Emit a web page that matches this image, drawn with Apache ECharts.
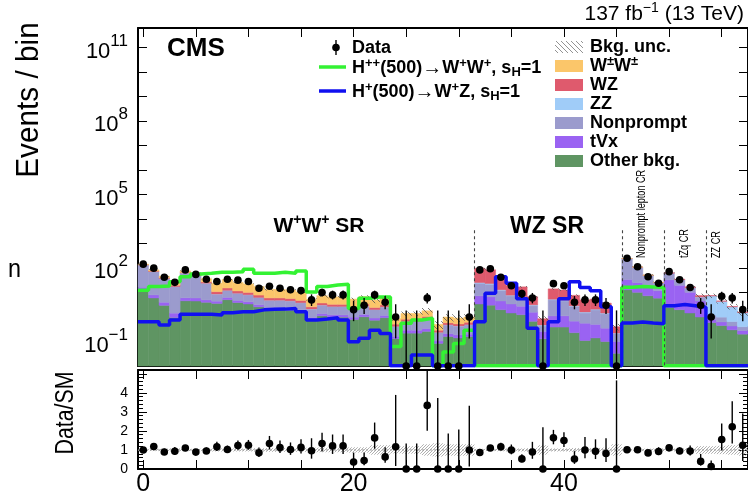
<!DOCTYPE html>
<html>
<head>
<meta charset="utf-8">
<script src="https://cdn.jsdelivr.net/npm/echarts@6/dist/echarts.min.js"></script>
<style>
  html, body { margin: 0; padding: 0; background: #ffffff; }
  #main { width: 748px; height: 497px; }
</style>
</head>
<body>
<div id="main"></div>
<script>
// ---- bins (bin centres; each bin is one unit wide) ----
const binCenters = [0,1,2,3,4,5,6,7,8,9,10,11,12,13,14,15,16,17,18,19,20,21,22,23,24,25,26,27,28,29,
  30,31,32,33,34,35,36,37,38,39,40,41,42,43,44,45,46,47,48,49,50,51,52,53,54,55,56,57];

// ---- observed events ----
const dataCounts = [144,99,42,26,84,55,35,28,35,32, 28,15,18,15,13,12,5,10,8,8,
  2,3,8,4,1,0,0,6,0,0, 0,1,84,94,42,19,9,6,0,23, 19,4,5,5,3,0,249,112,44,24,
  71,33,16,3,1,7,6,2];

// ---- expected backgrounds (stacked bottom to top) ----
const bkgOther = [13.4,6,3,0.96,4.6,4.5,4, 3.6,5.1,3.9,3.4,2.6,2,2,1.9,1.6,
  0.78,1.12,0.99,0.99,0.8,1.02,0.74,0.94,0.13,0.22,0.22,0.26,0.084,0.16,0.14,0.16,
  3.4,3.05,2,1.46,1.25,0.67,0.13,0.39,0.39,0.23,0.11,0.14,0.1,0.033,
  13,10.2,7.4,5.9, 2.5,2,1.46,1, 0.59,0.45,0.3,0.2];
const bkgTVx = [3.1,2,1,0.48,1.5,1.5,1, 0.84,1.2,0.9,0.8,0.6,0.47,0.47,0.44,0.37,
  0.18,0.26,0.23,0.23,0.19,0.24,0.17,0.22,0.034,0.07,0.07,0.08,0.021,0.05,0.047,0.04,
  3.9,3.56,2.5,1.95,1.5,0.9,0.13,0.72,0.73,0.45,0.45,0.36,0.25,0.067,
  21,15.3,9.9,5.9, 30.5,17.7,8.75,3.5, 0.2,0.18,0.13,0.08];
const bkgNonprompt = [115.7,62.9,32.8,15.8,55.8,42.5,18.7, 4.1,5.8,4.4,3.8,3,2.3,2.3,2.15,1.8,
  1.14,1.65,1.45,1.45,1.19,1.5,1.08,1.39,0.24,0.36,0.36,0.52,0.126,0.26,0.235,0.28,
  16.8,15.3,7.4,3.9,3.5,1.34,0.17,3.9,3.4,2,0.9,1.45,1,0.11,
  209,82.5,32.7,13.2, 27.9,13.2,5.35,2, 0.4,0.36,0.22,0.12];
const bkgZZ = [0.5,0.5,0.25,0.14,0.5,0.5,0.3, 0.12,0.17,0.13,0.11,0.09,0.07,0.07,0.06,0.05,
  0.03,0.04,0.03,0.03,0.03,0.03,0.02,0.03,0.01,0.015,0.015,0.016,0.006,0.01,0.01,0.012,
  1.5,1.5,1,0.49,0.5,0.22,0.04,0.34,0.34,0.18,0.14,0.14,0.1,0.011,
  0.5,0.5,0.25,0.15, 0.25,0.2,0.15,0.1, 6.1,3.4,1.96,1.12];
const bkgWZ = [4.1,4,3,2.4,4.1,4,3, 2.2,3.1,2.3,2,1.6,1.2,1.2,1.15,0.95,
  0.47,0.68,0.6,0.6,0.49,0.61,0.44,0.57,0.1,0.15,0.15,0.18,0.053,0.1,0.094,0.12,
  71.5,61.6,23.2,11.2,10.25,3.6,0.38,8.7,7.8,4.8,3.4,3.3,2.23,0.18,
  1.6,1,0.74,0.5, 2.8,1.8,1.3,0.9, 0.2,0.13,0.09,0.08];
const bkgWW = [7.2,8.6,6.8,8.2,9.6,9,10, 13.2,18.7,14.3,12.4,9.7,7.4,7.3,7,5.8,
  2.6,3.75,3.3,3.3,2.7,3.4,2.45,3.15,0.34,0.58,0.58,0.74,0.21,0.42,0.375,0.39,
  0,0,0,0,0,0,0,0,0,0,0,0,0,0,
  1.6,1.5,1,0.5, 0,0,0,0, 0,0,0,0];
// relative background uncertainty per bin
const bkgUncRel = [0.06,0.06,0.07,0.08,0.06,0.06,0.07, 0.08,0.08,0.08,0.08,0.09,0.1,0.1,0.1,0.1,
  0.12,0.12,0.12,0.12,0.14,0.14,0.25,0.25,0.18,0.2,0.2,0.3,0.35,0.3,0.3,0.3,
  0.06,0.06,0.07,0.08,0.08,0.1,0.25,0.08,0.08,0.1,0.1,0.1,0.12,0.3,
  0.05,0.06,0.07,0.08, 0.07,0.08,0.1,0.2, 0.2,0.22,0.25,0.3];

// ---- signal hypotheses ----
const sigHpp = [12.5,17.5,18.5,27.5,44,57,61,67,67,71, 89,61,61,67,61,75,10.5,17.5,20.4,22,
  2.24,5.8,6.6,6.6,0.062,0.55,0.75,0.89,0,0.037, 0.083,0.29,
  0,0,0,0,0,0,0,0,0,0,0,0,0,0,
  16.4,17.5,17,16, 0,0,0,0,0,0,0,0];
const sigHp = [0.64,0.64,0.47,0.75,1.31,1.31,1.31,1.22,1.5,1.63, 1.63,1.96,2.06,2.1,2.24,1.63,0.75,0.83,0.94,0.75,
  0.097,0.135,0.29,0.21,0,0,0.028,0.028,0,0, 0,0,0.64,9.3,43.8,24,5.6,0.35,0,0.64,
  5.6,27.5,16,11.7,2.6,0,0.57,0.62,0.57,0.53, 2.9,3.24,2.9,2.5,0,0,0,0];

// ---- region boundaries ----
const regionEdges = [31.5, 45.5, 49.5, 53.5];
const regionEdgeTop = 3500;

// y axis of the upper pad is drawn in decades (log10 of events)
const LMIN = -2, LMAX = 11.8;
const RMAX = 5.2;
const lg = v => Math.log10(v);

const colors = {
  other: '#5f9563', tvx: '#9a63f2', nonprompt: '#9b9bcd', zz: '#a0ccf8',
  wz: '#df5a6d', ww: '#fbc66a', hpp: '#33f233', hp: '#1010f0'
};

// ---- helpers ----
function lgClamp(v) { return v > 0 ? Math.min(Math.max(lg(v), LMIN), LMAX) : LMIN; }
function poissonUp(n) { return n + Math.sqrt(n + 0.75) + 1; }
function poissonLo(n) { return n > 0 ? n - Math.sqrt(n - 0.25) : 0; }

const layers = [
  { name: 'Other bkg.', vals: bkgOther, color: colors.other },
  { name: 'tVx', vals: bkgTVx, color: colors.tvx },
  { name: 'Nonprompt', vals: bkgNonprompt, color: colors.nonprompt },
  { name: 'ZZ', vals: bkgZZ, color: colors.zz },
  { name: 'WZ', vals: bkgWZ, color: colors.wz },
  { name: 'W\u00b1W\u00b1', vals: bkgWW, color: colors.ww }
];

// cumulative stack, in decades
const cum = binCenters.map(() => 0);
const stackData = layers.map(layer => binCenters.map((x, i) => {
  const lo = cum[i];
  cum[i] += layer.vals[i];
  return [x, lgClamp(lo), lgClamp(cum[i])];
}));
const bkgTotal = cum.slice();

function hatchPattern(color, size, width) {
  const c = document.createElement('canvas');
  c.width = c.height = size;
  const g = c.getContext('2d');
  g.strokeStyle = color; g.lineWidth = width;
  g.beginPath();
  g.moveTo(-1, -1); g.lineTo(size + 1, size + 1);
  g.moveTo(-1, size - 1); g.lineTo(1, size + 1);
  g.moveTo(size - 1, -1); g.lineTo(size + 1, 1);
  g.stroke();
  return { image: c, repeat: 'repeat' };
}
function dotPattern() {
  const c = document.createElement('canvas');
  c.width = c.height = 3;
  const g = c.getContext('2d');
  g.fillStyle = 'rgba(150,150,150,0.75)';
  g.fillRect(0, 0, 1, 1); g.fillRect(2, 1, 1, 1); g.fillRect(1, 2, 1, 1);
  return { image: c, repeat: 'repeat' };
}
const hatchMain = hatchPattern('#555', 6, 0.8);
const hatchLegend = hatchPattern('#777', 5, 0.8);
const ratioBandFill = dotPattern();

function rectRender(fill, withStroke) {
  return function (params, api) {
    const x = api.value(0), lo = api.value(1), hi = api.value(2);
    if (!(hi > lo)) return;
    const a = api.coord([x - 0.5, lo]);
    const b = api.coord([x + 0.5, hi]);
    const style = withStroke ? { fill: fill, stroke: fill, lineWidth: 0.5 } : { fill: fill };
    return { type: 'rect', shape: { x: a[0], y: b[1], width: b[0] - a[0], height: a[1] - b[1] }, style: style };
  };
}

function stepLine(vals) {
  const pts = [];
  binCenters.forEach((x, i) => {
    const v = vals[i] > 0 ? lgClamp(vals[i]) : LMIN + 0.01;
    pts.push([x - 0.5, v], [x + 0.5, v]);
  });
  return pts;
}

// band of background uncertainty (upper pad)
const uncData = binCenters.map((x, i) => [x, lgClamp(bkgTotal[i] * (1 - bkgUncRel[i])), lgClamp(bkgTotal[i] * (1 + bkgUncRel[i]))]);
// data points with Poisson intervals
const pointData = binCenters.map((x, i) => {
  const n = dataCounts[i];
  return [x, lgClamp(n), lgClamp(poissonLo(n)), lgClamp(poissonUp(n))];
});
// ratio data / expectation
const clampR = v => Math.min(Math.max(v, 0), RMAX);
const ratioData = binCenters.map((x, i) => {
  const b = bkgTotal[i], n = dataCounts[i];
  return [x, clampR(n / b), clampR(poissonLo(n) / b), clampR(poissonUp(n) / b)];
});
const ratioBand = binCenters.map((x, i) => [x, 1 - bkgUncRel[i], 1 + bkgUncRel[i]]);

function pointRender(params, api) {
  const x = api.value(0);
  const c = api.coord([x, api.value(1)]);
  const lo = api.coord([x, api.value(2)]);
  const hi = api.coord([x, api.value(3)]);
  return {
    type: 'group',
    children: [
      { type: 'line', shape: { x1: c[0], y1: lo[1], x2: c[0], y2: hi[1] }, style: { stroke: '#000', lineWidth: 1.4 } },
      { type: 'circle', shape: { cx: c[0], cy: c[1], r: 3.8 }, style: { fill: '#000' } }
    ]
  };
}

const FONT = "'Liberation Sans', Arial, Helvetica, sans-serif";

const chart = echarts.init(document.getElementById('main'), null, { renderer: 'canvas' });

const series = [];
layers.forEach((layer, k) => {
  series.push({
    type: 'custom', name: layer.name, xAxisIndex: 0, yAxisIndex: 0,
    data: stackData[k], encode: { x: 0, y: [1, 2] },
    renderItem: rectRender(layer.color, true), silent: true, z: 2
  });
});
series.push({
  type: 'custom', name: 'Bkg. unc.', xAxisIndex: 0, yAxisIndex: 0,
  data: uncData, encode: { x: 0, y: [1, 2] },
  renderItem: rectRender(hatchMain, false), silent: true, z: 3
});
series.push({
  type: 'line', name: 'H++', xAxisIndex: 0, yAxisIndex: 0, data: stepLine(sigHpp),
  showSymbol: false, lineStyle: { color: colors.hpp, width: 3.5 }, z: 4, silent: true
});
series.push({
  type: 'line', name: 'H+', xAxisIndex: 0, yAxisIndex: 0, data: stepLine(sigHp),
  showSymbol: false, lineStyle: { color: colors.hp, width: 3.5 }, z: 5, silent: true
});
series.push({
  type: 'line', name: 'regions', xAxisIndex: 0, yAxisIndex: 0, data: [], z: 6, silent: true,
  markLine: {
    symbol: 'none', silent: true, label: { show: false },
    lineStyle: { color: '#444', type: [3, 3], width: 1.1 },
    data: regionEdges.map(e => [{ coord: [e, lg(regionEdgeTop)] }, { coord: [e, LMIN] }])
  }
});
series.push({
  type: 'custom', name: 'Data', xAxisIndex: 0, yAxisIndex: 0, data: pointData,
  encode: { x: 0, y: 1 }, renderItem: pointRender, silent: true, z: 10
});
// ratio pad
series.push({
  type: 'custom', name: 'ratio band', xAxisIndex: 2, yAxisIndex: 2, data: ratioBand,
  encode: { x: 0, y: [1, 2] }, renderItem: rectRender(ratioBandFill, false), silent: true, z: 2
});
series.push({
  type: 'line', name: 'unity', xAxisIndex: 2, yAxisIndex: 2, data: [[-0.5, 1], [57.5, 1]],
  showSymbol: false, lineStyle: { color: '#999', width: 1, type: [2, 2] }, z: 3, silent: true
});
series.push({
  type: 'custom', name: 'Data/SM', xAxisIndex: 2, yAxisIndex: 2, data: ratioData,
  encode: { x: 0, y: 1 }, renderItem: pointRender, silent: true, z: 10
});

const tickStyle = { show: true, inside: true, length: 9, lineStyle: { color: '#000', width: 1 } };
function xAxisCfg(grid, pos, labels) {
  return {
    type: 'value', gridIndex: grid, position: pos, min: -0.5, max: 57.5, splitNumber: 12,
    axisLine: { show: true, onZero: false, lineStyle: { color: '#000', width: 2 } },
    axisTick: tickStyle, splitLine: { show: false },
    axisLabel: labels ? {
      show: true, margin: 3, fontSize: 25, fontFamily: FONT, color: '#000',
      showMinLabel: false, showMaxLabel: false,
      formatter: v => (v % 20 === 0 ? String(v) : '')
    } : { show: false }
  };
}
const expLabels = [-1, 2, 5, 8, 11];
function decadeAxis(pos, labels) {
  return {
    type: 'value', gridIndex: 0, position: pos, min: LMIN, max: LMAX, interval: 1,
    axisLine: { show: true, onZero: false, lineStyle: { color: '#000', width: 2 } },
    axisTick: tickStyle, splitLine: { show: false },
    axisLabel: labels ? {
      show: true, margin: 10, showMinLabel: false, showMaxLabel: false,
      formatter: v => {
        const e = Math.round(v);
        if (Math.abs(v - e) > 1e-6 || expLabels.indexOf(e) < 0) return '';
        return '{b|10}{e|' + (e < 0 ? '\u2212' + (-e) : e) + '}';
      },
      rich: {
        b: { fontSize: 22, fontFamily: FONT, color: '#000', lineHeight: 30, verticalAlign: 'bottom' },
        e: { fontSize: 17, fontFamily: FONT, color: '#000', lineHeight: 30, verticalAlign: 'top' }
      }
    } : { show: false }
  };
}
function ratioAxis(pos, labels) {
  return {
    type: 'value', gridIndex: 1, position: pos, min: 0, max: RMAX, interval: 1,
    axisLine: { show: true, onZero: false, lineStyle: { color: '#000', width: 2 } },
    axisTick: tickStyle, minorTick: { show: true, splitNumber: 5, length: 5, lineStyle: { color: '#000' } },
    splitLine: { show: false },
    axisLabel: labels ? {
      show: true, margin: 10, fontSize: 14, fontFamily: FONT, color: '#000',
      formatter: v => (v <= 4 ? String(v) : '')
    } : { show: false }
  };
}

const option = {
  animation: false,
  backgroundColor: '#ffffff',
  grid: [
    { left: 138, top: 28, width: 611, height: 338 },
    { left: 138, top: 370, width: 611, height: 108 }
  ],
  xAxis: [xAxisCfg(0, 'bottom', false), xAxisCfg(0, 'top', false), xAxisCfg(1, 'bottom', true), xAxisCfg(1, 'top', false)],
  yAxis: [decadeAxis('left', true), decadeAxis('right', false), ratioAxis('left', true), ratioAxis('right', false)],
  series: series,
  graphic: []
};

// ---- text and legend ----
const richLeg = {
  t: { fontSize: 18, fontWeight: 'bold', fontFamily: FONT, color: '#000', lineHeight: 22, verticalAlign: 'middle' },
  a: { fontSize: 20, fontWeight: 'bold', fontFamily: FONT, color: '#000', lineHeight: 22, verticalAlign: 'middle' },
  s: { fontSize: 13, fontWeight: 'bold', fontFamily: FONT, color: '#000', lineHeight: 22, verticalAlign: 'top' },
  u: { fontSize: 13, fontWeight: 'bold', fontFamily: FONT, color: '#000', lineHeight: 22, verticalAlign: 'bottom' }
};
function txt(x, y, text, style, extra) {
  return Object.assign({ type: 'text', x: x, y: y, style: Object.assign({ text: text, fill: '#000' }, style) }, extra || {});
}
const g = option.graphic;
g.push(txt(167, 49, 'CMS', { font: 'bold 26px ' + FONT, verticalAlign: 'middle' }));
g.push(txt(744, 14, '{t|137 fb}{s|\u22121}{t| (13 TeV)}', {
  align: 'right', verticalAlign: 'middle',
  rich: {
    t: { fontSize: 21, fontFamily: FONT, color: '#000', lineHeight: 26, verticalAlign: 'middle' },
    s: { fontSize: 14, fontFamily: FONT, color: '#000', lineHeight: 26, verticalAlign: 'top' }
  }
}));
g.push(txt(29, 100, 'Events / bin', { font: '32px ' + FONT, align: 'center', verticalAlign: 'middle' },
  { rotation: Math.PI / 2, scaleX: 0.93 }));
g.push(txt(66, 413, 'Data/SM', { font: '26px ' + FONT, align: 'center', verticalAlign: 'middle' },
  { rotation: Math.PI / 2, scaleX: 0.82 }));
g.push(txt(8, 270, 'n', { font: '26px ' + FONT, verticalAlign: 'middle' }, { scaleX: 0.9 }));

// region labels
g.push(txt(319, 226, '{t|W}{s|+}{t|W}{s|+}{t| SR}', {
  align: 'center', verticalAlign: 'middle',
  rich: {
    t: { fontSize: 21, fontWeight: 'bold', fontFamily: FONT, color: '#000', lineHeight: 26, verticalAlign: 'middle' },
    s: { fontSize: 14, fontWeight: 'bold', fontFamily: FONT, color: '#000', lineHeight: 26, verticalAlign: 'top' }
  }
}));
g.push(txt(547, 227, 'WZ SR', { font: 'bold 23px ' + FONT, align: 'center', verticalAlign: 'middle' }));
const cr = { font: '12px ' + FONT, align: 'left', verticalAlign: 'middle' };
g.push(txt(642, 258, 'Nonprompt lepton CR', cr, { rotation: Math.PI / 2, scaleX: 0.76 }));
g.push(txt(685, 258, 'tZq CR', cr, { rotation: Math.PI / 2, scaleX: 0.76 }));
g.push(txt(717, 258, 'ZZ CR', cr, { rotation: Math.PI / 2, scaleX: 0.76 }));

// legend column 1
g.push({ type: 'line', shape: { x1: 336, y1: 40, x2: 336, y2: 55 }, style: { stroke: '#000', lineWidth: 1.4 } });
g.push({ type: 'circle', shape: { cx: 336, cy: 47.5, r: 3.8 }, style: { fill: '#000' } });
g.push(txt(352, 48, '{t|Data}', { verticalAlign: 'middle', rich: richLeg }));
g.push({ type: 'line', shape: { x1: 319, y1: 67, x2: 346, y2: 67 }, style: { stroke: colors.hpp, lineWidth: 3.5 } });
g.push(txt(352, 68, '{t|H}{s|++}{t|(500)}{a|\u2192}{t|W}{s|+}{t|W}{s|+}{t|, s}{u|H}{t|=1}', { verticalAlign: 'middle', rich: richLeg }));
g.push({ type: 'line', shape: { x1: 319, y1: 91, x2: 346, y2: 91 }, style: { stroke: colors.hp, lineWidth: 3.5 } });
g.push(txt(352, 92, '{t|H}{s|+}{t|(500)}{a|\u2192}{t|W}{s|+}{t|Z, s}{u|H}{t|=1}', { verticalAlign: 'middle', rich: richLeg }));

// legend column 2
const legend2 = [
  { label: '{t|Bkg. unc.}', fill: hatchLegend },
  { label: '{t|W}{s|\u00b1}{t|W}{s|\u00b1}', fill: colors.ww },
  { label: '{t|WZ}', fill: colors.wz },
  { label: '{t|ZZ}', fill: colors.zz },
  { label: '{t|Nonprompt}', fill: colors.nonprompt },
  { label: '{t|tVx}', fill: colors.tvx },
  { label: '{t|Other bkg.}', fill: colors.other }
];
legend2.forEach((item, k) => {
  const y = 47 + k * 19;
  g.push({ type: 'rect', shape: { x: 555, y: y - 6, width: 28, height: 12 }, style: { fill: item.fill } });
  g.push(txt(590, y, item.label, { verticalAlign: 'middle', rich: richLeg }));
});

chart.setOption(option);
</script>
</body>
</html>
